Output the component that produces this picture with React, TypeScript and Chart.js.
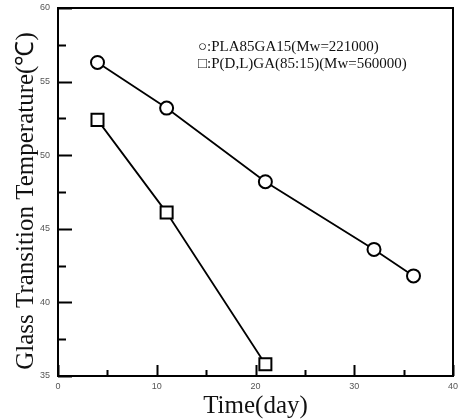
import React, { useEffect, useRef } from "react";
import { Chart, registerables } from "chart.js";

Chart.register(...registerables);

const seriesNames = ["PLA85GA15(Mw=221000)", "P(D,L)GA(85:15)(Mw=560000)"];
const legendSymbols = ["○", "□"];

const plaDays = [4, 11, 21, 32, 36];
const plaTg = [56.3, 53.2, 48.2, 43.6, 41.8];

const pdlgaDays = [4, 11, 21];
const pdlgaTg = [52.4, 46.1, 35.8];

const xTicks = [0, 10, 20, 30, 40];
const xMinorTicks = [5, 15, 25, 35];
const yTicks = [35, 40, 45, 50, 55, 60];
const yMinorTicks = [37.5, 42.5, 47.5, 52.5, 57.5];

const xTitle = "Time(day)";
const yTitle = "Glass Transition Temperature(℃)";

const SERIF = "'Liberation Serif', 'Times New Roman', serif";
const SANS = "'Liberation Sans', Arial, sans-serif";

const framePlugin = {
  id: "framePlugin",
  afterDraw(chart: any) {
    const { ctx, chartArea: a, scales } = chart;
    const xs = scales.x;
    const ys = scales.y;
    ctx.save();
    ctx.strokeStyle = "#000";
    ctx.lineWidth = 2;
    ctx.strokeRect(a.left, a.top, a.right - a.left, a.bottom - a.top);
    ctx.beginPath();
    xTicks.forEach((v) => {
      const px = Math.round(xs.getPixelForValue(v)) + 0.5;
      ctx.moveTo(px, a.bottom);
      ctx.lineTo(px, a.bottom - 11);
    });
    xMinorTicks.forEach((v) => {
      const px = Math.round(xs.getPixelForValue(v)) + 0.5;
      ctx.moveTo(px, a.bottom);
      ctx.lineTo(px, a.bottom - 6);
    });
    yTicks.forEach((v) => {
      const py = Math.round(ys.getPixelForValue(v)) + 0.5;
      ctx.moveTo(a.left, py);
      ctx.lineTo(a.left + 14, py);
    });
    yMinorTicks.forEach((v) => {
      const py = Math.round(ys.getPixelForValue(v)) + 0.5;
      ctx.moveTo(a.left, py);
      ctx.lineTo(a.left + 8, py);
    });
    ctx.stroke();

    // tick labels
    ctx.fillStyle = "#555";
    ctx.font = "9px " + SANS;
    ctx.textBaseline = "middle";
    ctx.textAlign = "right";
    yTicks.forEach((v) => {
      ctx.fillText(String(v), a.left - 8, ys.getPixelForValue(v));
    });
    ctx.textAlign = "center";
    ctx.textBaseline = "top";
    xTicks.forEach((v) => {
      ctx.fillText(String(v), xs.getPixelForValue(v), a.bottom + 6);
    });

    // legend
    ctx.fillStyle = "#111";
    ctx.font = "15px " + SERIF;
    ctx.textBaseline = "middle";
    ctx.textAlign = "left";
    seriesNames.forEach((name, i) => {
      ctx.fillText(legendSymbols[i] + ":" + name, 198, 47 + i * 17);
    });

    // axis titles
    ctx.font = "25px " + SERIF;
    ctx.textBaseline = "alphabetic";
    ctx.textAlign = "center";
    ctx.fillText(xTitle, (a.left + a.right) / 2, 413);
    ctx.translate(33, 201);
    ctx.rotate(-Math.PI / 2);
    ctx.fillText(yTitle, 0, 0);
    ctx.restore();
  },
};

export default function App() {
  const ref = useRef<HTMLCanvasElement>(null);
  useEffect(() => {
    document.body.style.margin = "0";
    const canvas = ref.current!;
    const chart = new Chart(canvas, {
      type: "line",
      data: {
        datasets: [
          {
            label: seriesNames[0],
            data: plaDays.map((d, i) => ({ x: d, y: plaTg[i] })),
            borderColor: "#000",
            borderWidth: 1.8,
            pointStyle: "circle",
            pointRadius: 6.5,
            pointBorderWidth: 2,
            pointBackgroundColor: "#fff",
            pointBorderColor: "#000",
            tension: 0,
          },
          {
            label: seriesNames[1],
            data: pdlgaDays.map((d, i) => ({ x: d, y: pdlgaTg[i] })),
            borderColor: "#000",
            borderWidth: 1.8,
            pointStyle: "rect",
            pointRadius: 8.5,
            pointBorderWidth: 2,
            pointBackgroundColor: "#fff",
            pointBorderColor: "#000",
            tension: 0,
          },
        ],
      },
      options: {
        animation: false,
        responsive: false,
        events: [],
        layout: { autoPadding: false, padding: { top: 8, right: 5, left: 0, bottom: 0 } },
        plugins: { legend: { display: false }, tooltip: { enabled: false } },
        scales: {
          x: {
            type: "linear",
            min: 0,
            max: 40,
            grid: { display: false, drawTicks: false },
            border: { display: false },
            ticks: { display: false },
            title: { display: false },
            afterFit: (s: any) => {
              s.height = 44;
            },
          },
          y: {
            type: "linear",
            min: 35,
            max: 60,
            grid: { display: false, drawTicks: false },
            border: { display: false },
            ticks: { display: false },
            title: { display: false },
            afterFit: (s: any) => {
              s.width = 58;
            },
          },
        },
      },
      plugins: [framePlugin],
    });
    return () => chart.destroy();
  }, []);
  return <canvas ref={ref} width={458} height={420} style={{ display: "block" }} />;
}
